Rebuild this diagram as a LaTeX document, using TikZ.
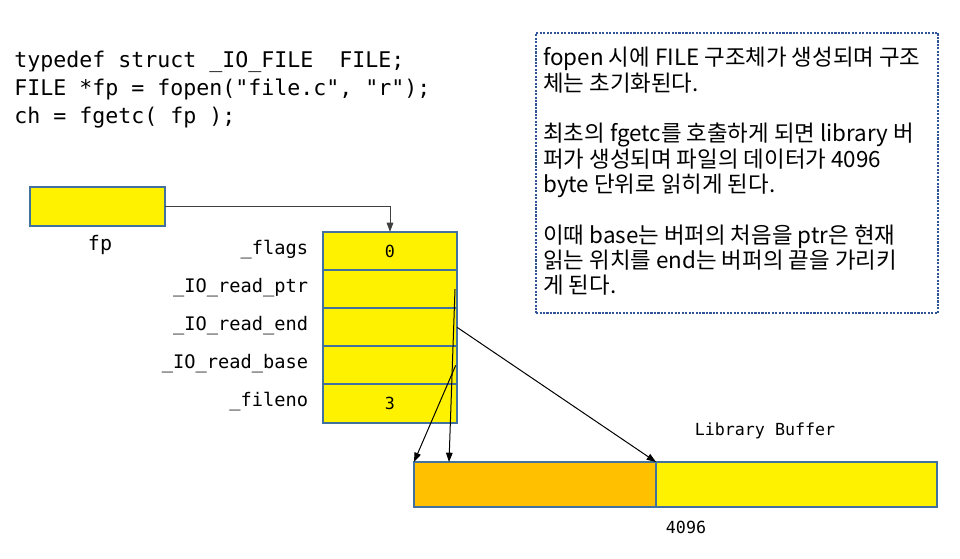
\documentclass[tikz,border=0pt]{standalone}
\usepackage{fontspec}
\usepackage{tikz}
\usetikzlibrary{arrows.meta,calc}
\usetikzlibrary{positioning}
\usepackage{xcolor}

\newfontfamily\codefont{DejaVu Sans Mono}
\newfontfamily\kofont{Noto Sans CJK KR}

\definecolor{boxline}{RGB}{65,113,156}
\definecolor{noteline}{RGB}{47,85,151}
\definecolor{bufused}{RGB}{255,192,0}

\begin{document}
\begin{tikzpicture}[x=0.75pt,y=-0.75pt,
  codetxt/.style={inner sep=0pt, font=\codefont\fontsize{16.2}{20}\selectfont},
  field/.style={draw=boxline, line width=1.5pt, fill=yellow, outer sep=0pt,
    minimum width=100.5pt, minimum height=28.6pt, inner sep=0pt,
    font=\codefont\fontsize{12.5}{15}\selectfont},
  fieldlbl/.style={anchor=east, inner sep=0pt, text height=1.6ex, text depth=0.5ex,
    font=\codefont\fontsize{14}{17}\selectfont},
  bufbox/.style={draw=boxline, line width=1.5pt, outer sep=0pt,
    minimum height=33.75pt, inner sep=0pt},
  smalltxt/.style={inner sep=0pt, font=\codefont\fontsize{12.5}{15}\selectfont},
  ptrline/.style={line width=0.75pt, -{Triangle[length=7pt,width=5pt]}},
  notebox/.style={draw=noteline, line width=1.6pt, densely dotted},
  notetxt/.style={inner sep=0pt, align=left, font=\kofont\fontsize{16.8}{19}\selectfont}]
\useasboundingbox (0,0) rectangle (960,558);

% 코드
\node[codetxt, anchor=base west] (code1) at (14,67) {typedef struct \_IO\_FILE~~FILE;};
\node[codetxt, anchor=base west] (code2) at (14,95) {FILE *fp = fopen("file.c", "r");};
\node[codetxt, anchor=base west] (code3) at (14,123) {ch = fgetc( fp );};

% 설명 상자
\node[notebox, anchor=north west, minimum width=301.5pt, minimum height=210pt] (note) at (535,32) {};
\node[notetxt, anchor=north west] (notetext) at (543,47) {%
fopen 시에 FILE 구조체가 생성되며 구조\\
체는 초기화된다.\\[19pt]
최초의 fgetc를 호출하게 되면 library 버\\
퍼가 생성되며 파일의 데이터가 4096\\
byte 단위로 읽히게 된다.\\[19pt]
이때 base는 버퍼의 처음을 ptr은 현재\\
읽는 위치를 end는 버퍼의 끝을 가리키\\
게 된다.};

% fp 포인터
\node[field, minimum width=101.25pt, minimum height=29.25pt] (fp) at (97.5,206.5) {};
\node[codetxt, font=\codefont\fontsize{15}{18}\selectfont] (fplbl) at (100,245) {fp};

% FILE 구조체
\node[field] (flags) at (390,251) {0};
\node[field, below=0pt of flags] (rptr) {};
\node[field, below=0pt of rptr] (rend) {};
\node[field, below=0pt of rend] (rbase) {};
\node[field, below=0pt of rbase] (fileno) {3};

\node[fieldlbl] (lflags) at ([xshift=-11pt]flags.west) {\_flags};
\node[fieldlbl] (lrptr) at ([xshift=-11pt]rptr.west) {\_IO\_read\_ptr};
\node[fieldlbl] (lrend) at ([xshift=-11pt]rend.west) {\_IO\_read\_end};
\node[fieldlbl] (lrbase) at ([xshift=-11pt]rbase.west) {\_IO\_read\_base};
\node[fieldlbl] (lfileno) at ([xshift=-11pt]fileno.west) {\_fileno};

% library 버퍼
\node[bufbox, fill=bufused, minimum width=181.5pt] (bufold) at (535,484.5) {};
\node[bufbox, fill=yellow, minimum width=210.75pt, right=0pt of bufold] (bufnew) {};
\node[smalltxt] (buflbl) at (765,431) {Library Buffer};
\node[smalltxt] (bufsize) at (686,527) {4096};

% 화살표
\draw[ptrline, draw=black!75] (fp.east) -| (flags.north);
\coordinate (ptrhit) at ($(bufold.north west)+(35,0)$);
\draw[ptrline] ([xshift=-1.5pt]rptr.east) -- (ptrhit);
\draw[ptrline] ([xshift=-1pt]rbase.east) -- (bufold.north west);
\draw[ptrline] (rend.east) -- (bufold.north east);

\end{tikzpicture}
\end{document}
